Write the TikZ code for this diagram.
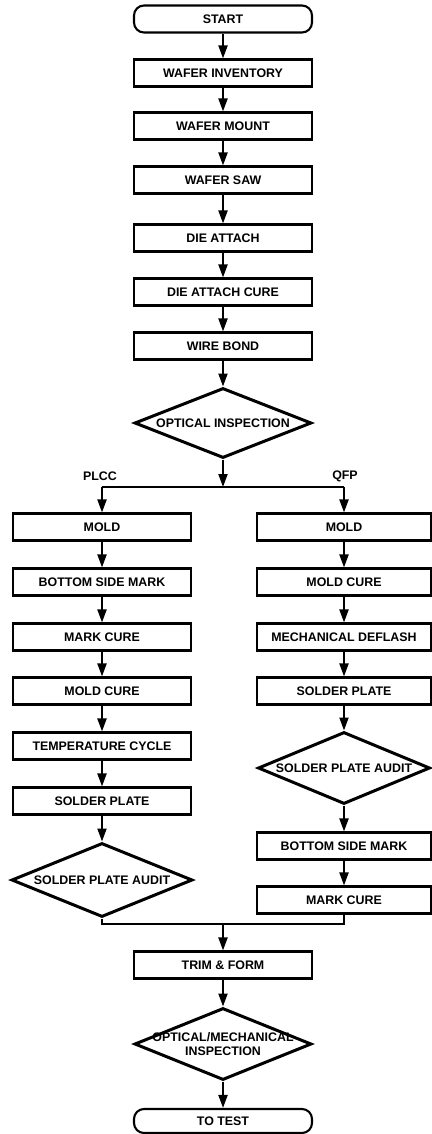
\documentclass[tikz,border=0pt]{standalone}
\usepackage{fontspec}
\setmainfont{Liberation Sans}
\usetikzlibrary{arrows.meta,shapes.geometric}

\begin{document}
\begin{tikzpicture}[x=1pt, y=-1pt,
        procbox/.style={draw, line width=2.1pt, minimum width=178pt, minimum height=27pt, inner sep=0pt, font=\bfseries\fontsize{12.4}{14}\selectfont},
        termbox/.style={procbox, rounded corners=10pt},
        decision/.style={diamond, draw, line width=3pt, aspect=4, minimum width=177pt, minimum height=70pt, inner sep=0pt, align=center, font=\bfseries\fontsize{12.4}{14}\selectfont},
        flow/.style={line width=2pt, -{Triangle[length=13pt, width=9pt]}},
        branchlabel/.style={font=\bfseries\fontsize{12.4}{14}\selectfont}
    ]
        \useasboundingbox (0,0) rectangle (431,1134);
        % Common line
        \node[termbox] (start) at (223,19) {START};
        \node[procbox] (inv) at (223,73) {WAFER INVENTORY};
        \node[procbox] (mount) at (223,126) {WAFER MOUNT};
        \node[procbox] (saw) at (223,180) {WAFER SAW};
        \node[procbox] (attach) at (223,238) {DIE ATTACH};
        \node[procbox] (cure) at (223,292) {DIE ATTACH CURE};
        \node[procbox] (bond) at (223,346) {WIRE BOND};
        \node[decision] (oinsp) at (223,423) {OPTICAL INSPECTION};
        \foreach \a/\b in {start/inv, inv/mount, mount/saw, saw/attach, attach/cure, cure/bond, bond/oinsp} {
            \draw[flow] (\a) -- (\b);
        }
        % PLCC branch
        \node[procbox] (lmold) at (102,527) {MOLD};
        \node[procbox] (lbsm) at (102,582) {BOTTOM SIDE MARK};
        \node[procbox] (lmcure) at (102,637) {MARK CURE};
        \node[procbox] (lmoldcure) at (102,691) {MOLD CURE};
        \node[procbox] (ltemp) at (102,746) {TEMPERATURE CYCLE};
        \node[procbox] (lsp) at (102,801) {SOLDER PLATE};
        \node[decision, minimum width=181pt, minimum height=74pt] (lspa) at (102,880) {SOLDER PLATE AUDIT};
        \foreach \a/\b in {lmold/lbsm, lbsm/lmcure, lmcure/lmoldcure, lmoldcure/ltemp, ltemp/lsp, lsp/lspa} {
            \draw[flow] (\a) -- (\b);
        }
        % QFP branch
        \node[procbox, minimum width=174pt] (rmold) at (344,527) {MOLD};
        \node[procbox, minimum width=174pt] (rmoldcure) at (344,582) {MOLD CURE};
        \node[procbox, minimum width=174pt] (rdeflash) at (344,637) {MECHANICAL DEFLASH};
        \node[procbox, minimum width=174pt] (rsp) at (344,691) {SOLDER PLATE};
        \node[decision, minimum width=172pt, minimum height=72pt] (rspa) at (344,768) {SOLDER PLATE AUDIT};
        \node[procbox, minimum width=174pt] (rbsm) at (344,846) {BOTTOM SIDE MARK};
        \node[procbox, minimum width=174pt] (rmcure) at (344,900) {MARK CURE};
        \foreach \a/\b in {rmold/rmoldcure, rmoldcure/rdeflash, rdeflash/rsp, rsp/rspa, rspa/rbsm, rbsm/rmcure} {
            \draw[flow] (\a) -- (\b);
        }
        % Split after inspection
        \coordinate (split) at (223,487);
        \draw[flow] (oinsp) -- (split);
        \draw[line width=2pt] (split -| lmold) -- (split -| rmold);
        \foreach \n in {lmold, rmold} {
            \draw[flow] (split -| \n) -- (\n);
        }
        \node[branchlabel] (plcc) at (100,476) {PLCC};
        \node[branchlabel] (qfp) at (345,476) {QFP};
        % Join and final steps
        \coordinate (join) at (223,924);
        \draw[line width=2pt] (lspa.south) |- (join) -| (rmcure.south);
        \node[procbox] (trim) at (223,965) {TRIM \& FORM};
        \node[decision, minimum height=72pt, inner ysep=-8pt] (omi) at (223,1044) {OPTICAL/MECHANICAL\\INSPECTION};
        \node[termbox, minimum height=24pt] (totest) at (223,1121) {TO TEST};
        \draw[flow] (join) -- (trim);
        \foreach \a/\b in {trim/omi, omi/totest} {
            \draw[flow] (\a) -- (\b);
        }
    \end{tikzpicture}
\end{document}
